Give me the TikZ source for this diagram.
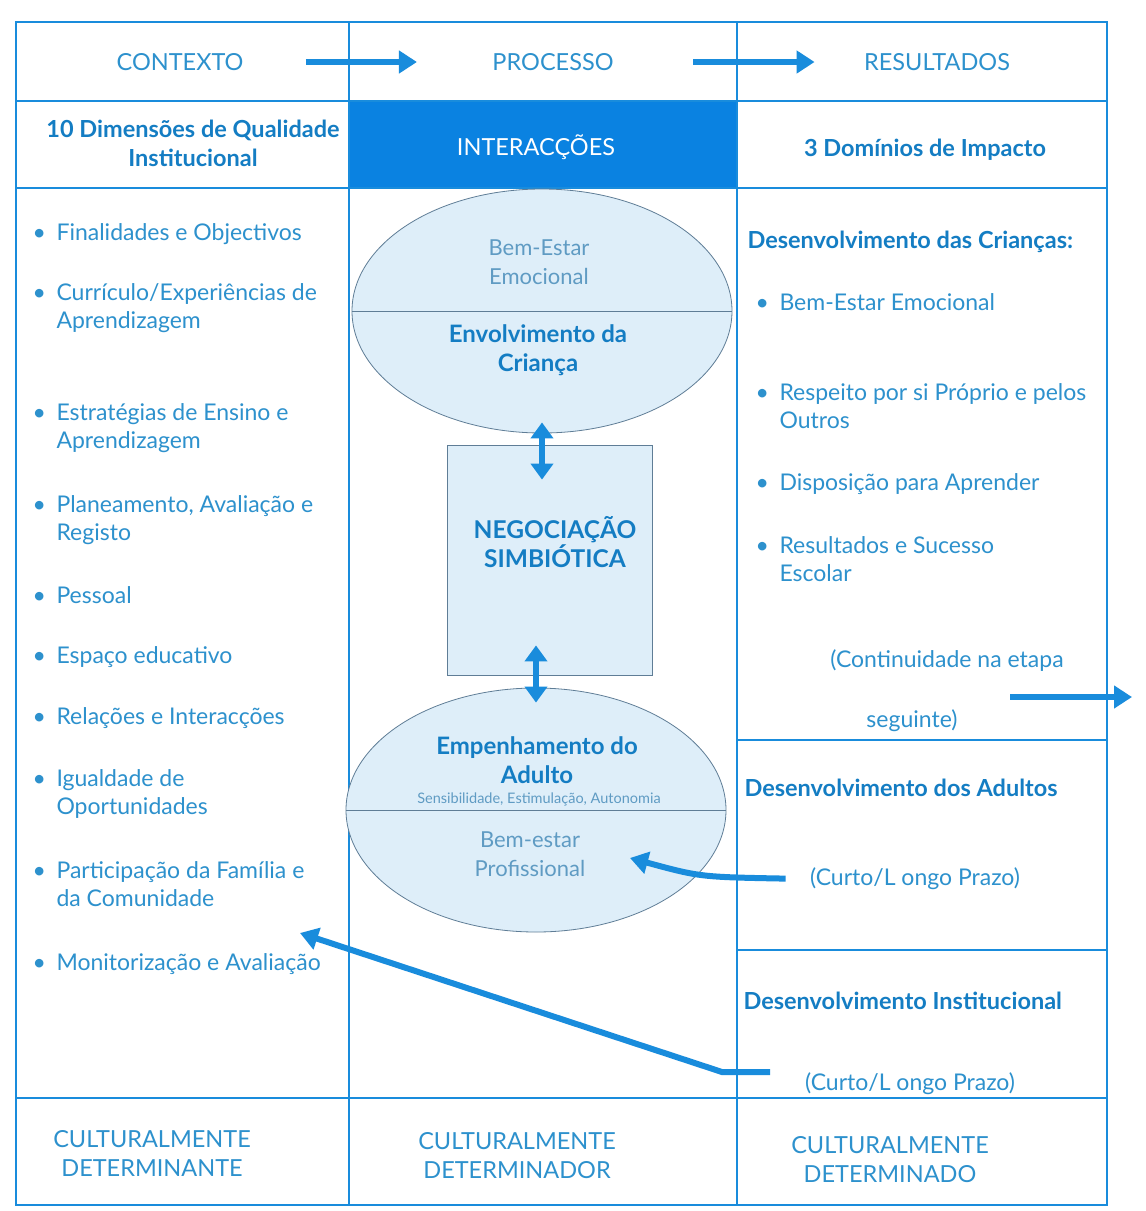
\documentclass[tikz,border=0pt]{standalone}
\usepackage{fontspec}
\setmainfont{Lato}
\usepackage{tikz}
\usetikzlibrary{arrows.meta}
\usetikzlibrary{shapes.geometric}
\usetikzlibrary{positioning}

\definecolor{frameblue}{RGB}{25,140,220}
\definecolor{fillblue}{RGB}{10,130,225}
\definecolor{textblue}{RGB}{45,145,205}
\definecolor{headblue}{RGB}{20,125,195}
\definecolor{paleblue}{RGB}{222,238,249}
\definecolor{rimgrey}{RGB}{95,125,150}
\definecolor{softblue}{RGB}{95,155,195}

% bullet box and hanging indent for the list items
\newcommand{\bl}{\makebox[24pt][l]{\textbullet}}
\newcommand{\ind}{\hspace*{24pt}}

\begin{document}
\begin{tikzpicture}[x=1pt, y=-1pt,
    rule/.style={frameblue, line width=2.6pt},
    divider/.style={frameblue, line width=1.8pt},
    caps/.style={textblue, font=\fontsize{23.5}{29}\selectfont, align=center},
    heading/.style={headblue, font=\fontsize{23.5}{29}\selectfont\bfseries, align=center},
    body/.style={textblue, font=\fontsize{23}{28}\selectfont, align=left, anchor=west},
    soft/.style={softblue, font=\fontsize{22}{29}\selectfont, align=center},
    flow/.style={frameblue, line width=6pt, -{Triangle[length=18pt, width=22pt]}},
    both/.style={frameblue, line width=6pt, {Triangle[length=16pt, width=22pt]}-{Triangle[length=16pt, width=22pt]}},
    bubble/.style={ellipse, draw=rimgrey, line width=0.8pt, fill=paleblue, minimum width=380pt, minimum height=244pt, inner sep=0pt},
]
    \useasboundingbox[fill=white] (0,0) rectangle (1146,1211);

    % table frame
    \fill[fillblue] (349,101) rectangle (737,188);
    \draw[divider] (16,22) rectangle (1107,1205);
    \draw[divider] (349,22) -- (349,1205);
    \draw[divider] (737,22) -- (737,1205);
    \draw[rule] (16,101) -- (1107,101);
    \draw[rule] (16,188) -- (1107,188);
    \draw[rule] (16,1098) -- (1107,1098);
    \draw[rule] (737,740) -- (1107,740);
    \draw[rule] (737,950) -- (1107,950);

    % header rows
    \node[caps] (ctx) at (180,62) {CONTEXTO};
    \node[caps] (proc) at (553,62) {PROCESSO};
    \node[caps] (res) at (937,62) {RESULTADOS};
    \draw[flow, shorten <=59pt, shorten >=72pt] (ctx) -- (proc);
    \draw[flow, shorten <=76pt, shorten >=46pt] (proc) -- (res);

    \node[heading] (dims) at (193,143) {10 Dimensões de Qualidade\\Institucional};
    \node[caps, white] (inter) at (536,147) {INTERACÇÕES};
    \node[heading] (dom) at (925,150) {3 Domínios de Impacto};

    % context column
    \node[body] (aims) at (29,234) {\bl Finalidades e Objectivos};
    \node[body] (curr) at (29,308) {\bl Currículo/Experiências de\\\ind Aprendizagem};
    \node[body] (teach) at (29,428) {\bl Estratégias de Ensino e\\\ind Aprendizagem};
    \node[body] (plan) at (29,520) {\bl Planeamento, Avaliação e\\\ind Registo};
    \node[body] (staff) at (29,595) {\bl Pessoal};
    \node[body] (space) at (29,657) {\bl Espaço educativo};
    \node[body] (rel) at (29,718) {\bl Relações e Interacções};
    \node[body] (equal) at (29,794) {\bl Igualdade de\\\ind Oportunidades};
    \node[body] (family) at (29,884) {\bl Participação da Família e\\\ind da Comunidade};
    \node[body] (monit) at (29,964) {\bl Monitorização e Avaliação};

    % process column
    \node[bubble] (child) at (542,311) {};
    \draw[rimgrey, line width=0.8pt] (child.west) -- (child.east);
    \node[soft] (emo) at (539,262) {Bem-Estar\\Emocional};
    \node[heading, font=\fontsize{24}{29}\selectfont\bfseries] (invol) at (538,350) {Envolvimento da\\Criança};

    \node[draw=rimgrey, line width=0.8pt, fill=paleblue, minimum width=205pt, minimum height=230pt] (neg) at (549.5,560) {};
    \node[heading, font=\fontsize{24.5}{29}\selectfont\bfseries] (negtxt) at (555,542) {NEGOCIAÇÃO\\SIMBIÓTICA};

    \node[bubble] (adult) at (536,810) {};
    \draw[rimgrey, line width=0.8pt] (adult.west) -- (adult.east);
    \node[heading, font=\fontsize{24}{29}\selectfont\bfseries] (engage) at (537,760) {Empenhamento do\\Adulto};
    \node[soft, font=\fontsize{14.5}{16}\selectfont] (traits) at (539,799) {Sensibilidade, Estimulação, Autonomia};
    \node[soft] (prof) at (530,854) {Bem-estar\\Profissional};

    \draw[both, shorten <=-11pt, shorten >=-35pt] (child.south) -- (child.south |- neg.north);
    \draw[both, shorten <=-30pt, shorten >=-15pt] (adult.north |- neg.south) -- (adult.north);

    % outcomes column
    \node[heading, anchor=west] (kids) at (744,242) {Desenvolvimento das Crianças:};
    \node[body] (wellb) at (752,302) {\bl Bem-Estar Emocional};
    \node[body] (respect) at (752,406) {\bl Respeito por si Próprio e pelos\\\ind Outros};
    \node[body] (learn) at (752,484) {\bl Disposição para Aprender};
    \node[body] (school) at (752,559) {\bl Resultados e Sucesso\\\ind Escolar};

    \node[body, anchor=center] (cont) at (947,661) {(Continuidade na etapa};
    \node[body, anchor=center] (next) at (912,721) {seguinte)};
    \coordinate (contStart) at (1010,697);
    \coordinate (nextStage) at (1132,697);
    \draw[flow] (contStart) -- (nextStage);

    \node[heading, anchor=west] (adults) at (741,788) {Desenvolvimento dos Adultos};
    \node[body, anchor=center] (termA) at (915,879) {(Curto/L ongo Prazo)};
    \coordinate (profTip) at (630,858);
    \draw[flow, shorten <=21pt] (termA.west) .. controls (700,877) .. (profTip);

    \node[heading, anchor=west] (inst) at (740,1001) {Desenvolvimento Institucional};
    \node[body, anchor=center] (termB) at (910,1084) {(Curto/L ongo Prazo)};
    \coordinate (instStart) at (770,1072);
    \coordinate (instBend) at (722,1072);
    \coordinate (monitTip) at (300,933);
    \draw[flow] (instStart) -- (instBend) -- (monitTip);

    % bottom row
    \node[caps] (det1) at (152,1153) {CULTURALMENTE\\DETERMINANTE};
    \node[caps] (det2) at (517,1156) {CULTURALMENTE\\DETERMINADOR};
    \node[caps] (det3) at (890,1160) {CULTURALMENTE\\DETERMINADO};
\end{tikzpicture}
\end{document}
